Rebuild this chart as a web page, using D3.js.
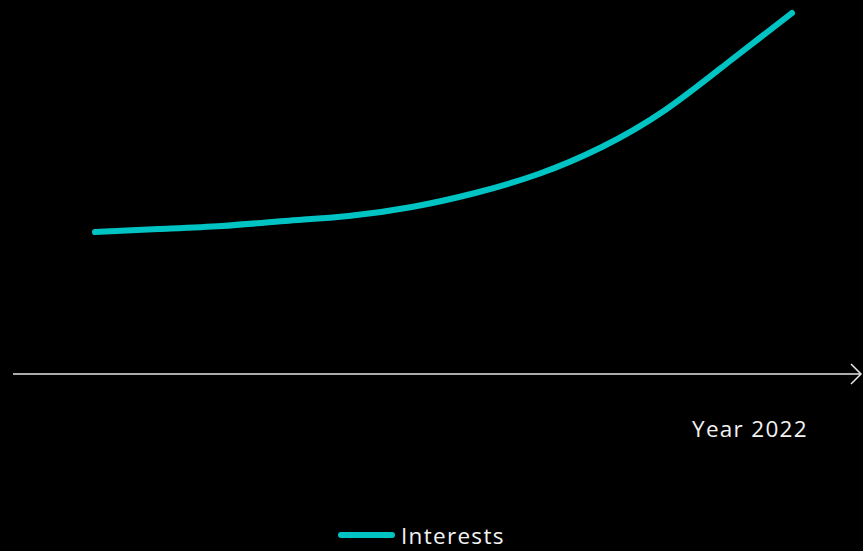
<!DOCTYPE html>
<html>
<head>
<meta charset="utf-8">
<script src="https://cdn.jsdelivr.net/npm/d3@7"></script>
<style>
  html, body { margin: 0; padding: 0; background: #000; }
  svg { display: block; }
  text { font-family: "Open Sans", "Noto Sans", sans-serif; fill: #f2f2f2; letter-spacing: 1.3px; }
</style>
</head>
<body>
<svg id="chart" width="863" height="551"></svg>
<script>
// data
var months = ['Jan', 'Feb', 'Mar', 'Apr', 'May', 'Jun', 'Jul', 'Aug', 'Sep', 'Oct', 'Nov', 'Dec'];
var interests = [142, 145, 148, 153, 158, 167, 181, 200, 227, 264, 312, 361];
var axisLabel = 'Year 2022';
var seriesName = 'Interests';

var width = 863, height = 551;
var lineColor = '#00c4c4';

var svg = d3.select('#chart');

var x = d3.scalePoint().domain(months).range([95, 792]);
var y = d3.scaleLinear().domain([0, 361]).range([374, 13]);

// x axis arrow
svg.append('line')
  .attr('x1', 13).attr('x2', 861)
  .attr('y1', 374).attr('y2', 374)
  .attr('stroke', '#e6e6e6').attr('stroke-width', 1.5);

svg.append('path')
  .attr('d', 'M851,364 L861,374 L851,384')
  .attr('fill', 'none')
  .attr('stroke', '#e6e6e6').attr('stroke-width', 1.5);

svg.append('text')
  .attr('x', 692).attr('y', 437)
  .attr('font-size', 22.5)
  .text(axisLabel);

// series
var line = d3.line()
  .x(function(d, i) { return x(months[i]); })
  .y(function(d) { return y(d); })
  .curve(d3.curveNatural);

svg.append('path')
  .datum(interests)
  .attr('d', line)
  .attr('fill', 'none')
  .attr('stroke', lineColor)
  .attr('stroke-width', 6)
  .attr('stroke-linecap', 'round');

// legend
var legend = svg.append('g').attr('transform', 'translate(339,535)');
legend.append('line')
  .attr('x1', 2).attr('x2', 53)
  .attr('stroke', lineColor)
  .attr('stroke-width', 6)
  .attr('stroke-linecap', 'round');
legend.append('text')
  .attr('x', 62).attr('y', 9)
  .attr('font-size', 22.5)
  .text(seriesName);
</script>
</body>
</html>
